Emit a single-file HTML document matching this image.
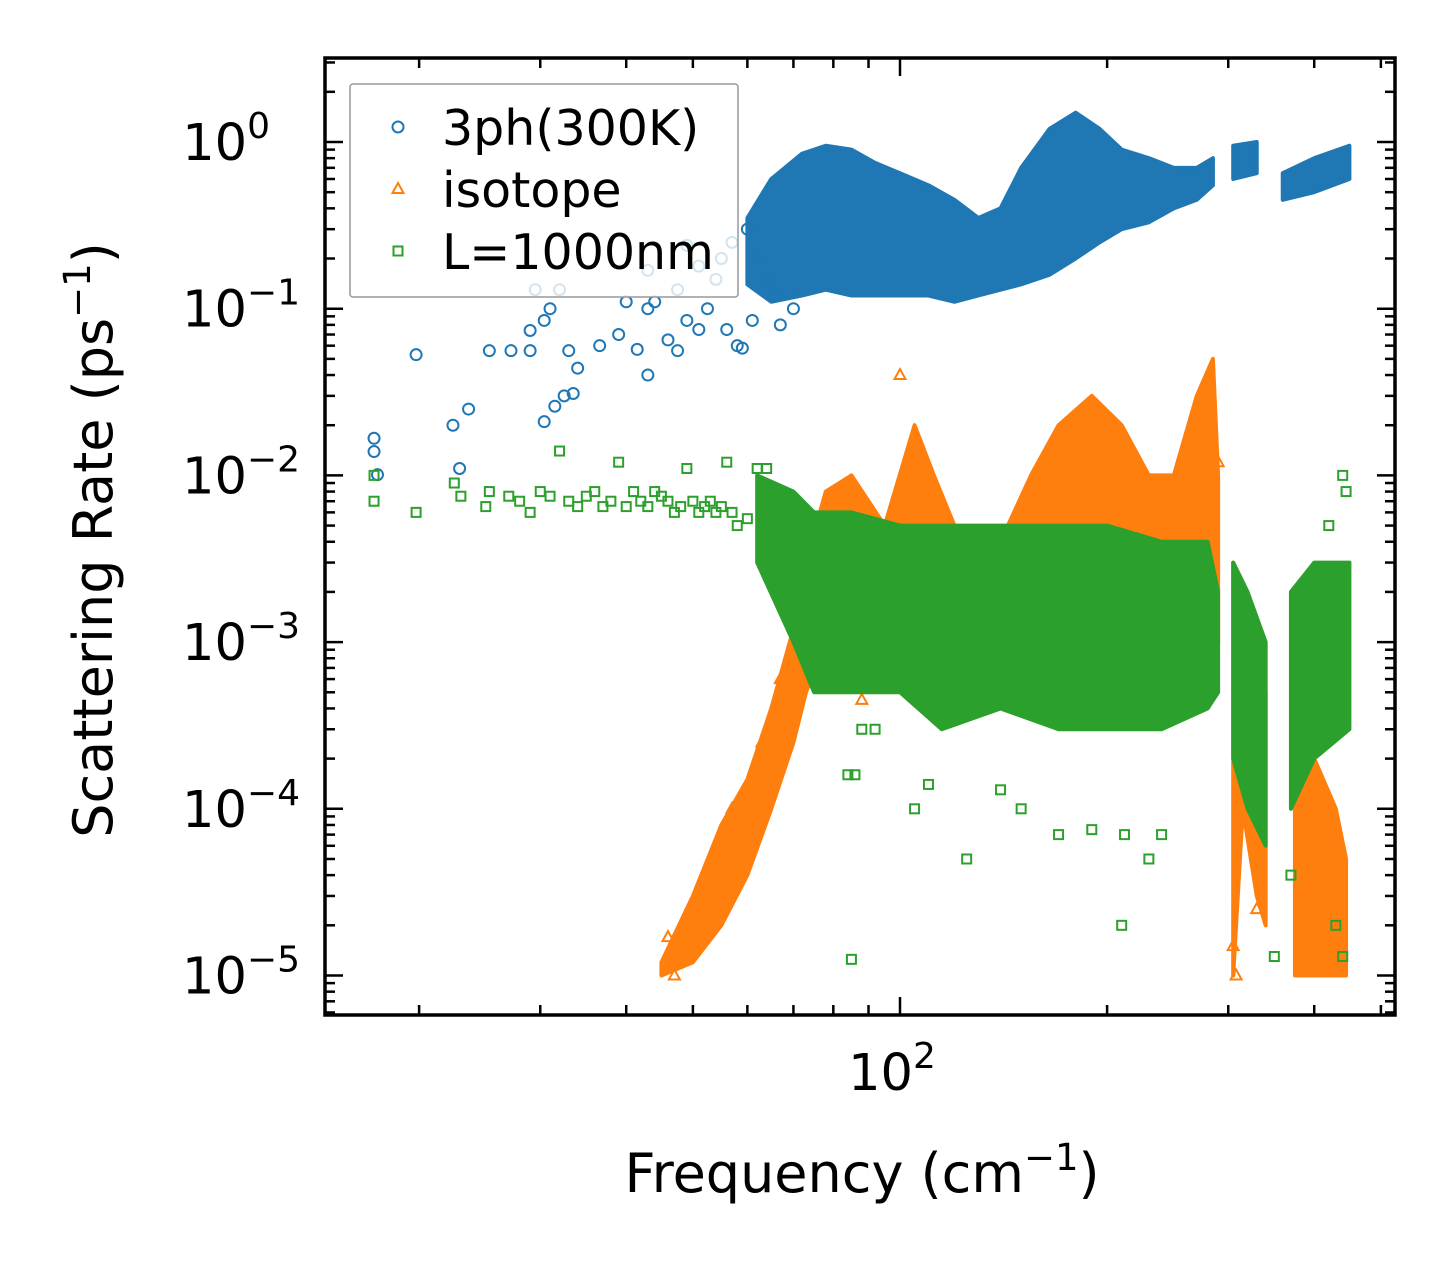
<!DOCTYPE html>
<html><head><meta charset="utf-8"><style>
body{margin:0;background:#fff}
svg text{font-family:"DejaVu Sans","Liberation Sans",sans-serif;fill:#000}
</style></head><body>
<svg id="chart" width="1455" height="1265" xmlns="http://www.w3.org/2000/svg">
<g id="marks"></g>
<g id="axes"></g>
</svg>
<script>
// ---- data ----
const xTicksMajor=[100];
const xTicksMinor=[20,30,40,50,60,70,80,90,200,300,400,500];
const yTickExps=[0,-1,-2,-3,-4,-5];
const blueBands=[
 [[60,0.14,0.35],[65,0.11,0.6],[72,0.12,0.85],[78,0.13,0.95],[85,0.12,0.9],[92,0.12,0.75],[100,0.12,0.65],[110,0.12,0.55],[120,0.11,0.45],[130,0.12,0.35],[140,0.13,0.4],[150,0.14,0.7],[165,0.16,1.2],[180,0.2,1.5],[195,0.25,1.2],[210,0.3,0.9],[230,0.33,0.8],[250,0.4,0.7],[270,0.45,0.7],[285,0.55,0.8]],
 [[305,0.6,0.95],[330,0.65,1.0]],
 [[360,0.45,0.65],[400,0.5,0.8],[450,0.6,0.95]]];
const bluePoints=[[17.2,0.0167],[17.2,0.0139],[17.4,0.0101],[19.8,0.053],[22.4,0.02],[22.9,0.011],[23.6,0.025],[25.3,0.056],[27.2,0.056],[29,0.056],[29,0.074],[30.4,0.085],[31,0.1],[29.5,0.13],[32,0.13],[30.4,0.021],[31.5,0.026],[32.5,0.03],[33.5,0.031],[34,0.044],[33,0.056],[36.6,0.06],[39,0.07],[40,0.11],[43,0.1],[43,0.04],[41.5,0.057],[44,0.11],[46,0.065],[47.5,0.056],[49,0.085],[51,0.075],[52.5,0.1],[54,0.15],[56,0.075],[58,0.06],[59,0.058],[61,0.085],[67,0.08],[47.5,0.13],[51,0.18],[49,0.24],[43,0.17],[55,0.2],[57,0.25],[60,0.3],[62,0.2],[64,0.15],[66,0.12],[70,0.1]];
const orangeBands=[
 [[45,1e-5,1.2e-5],[50,1.2e-5,3e-5],[55,2e-5,8e-5],[60,4e-5,1.5e-4],[65,1e-4,4e-4],[70,2.5e-4,1.2e-3],[73,5e-4,3e-3],[78,1e-3,8e-3],[85,1e-3,1e-2],[95,1e-3,5e-3],[105,1e-3,2e-2],[112,1e-3,1e-2],[120,1e-3,5e-3],[140,1e-3,4e-3],[155,1e-3,1e-2],[170,1e-3,2e-2],[190,1e-3,3e-2],[210,1e-3,2e-2],[230,1e-3,1e-2],[250,1e-3,1e-2],[270,1e-3,3e-2],[285,1e-3,5e-2],[290,1e-3,1e-2]],
 [[305,1e-5,3e-3],[315,1e-4,2e-3],[330,3e-5,1e-3],[340,2e-5,5e-4]],
 [[375,1e-5,3e-4],[400,1e-5,2e-4],[430,1e-5,1e-4],[445,1e-5,5e-5]]];
const orangePoints=[[100,0.04],[47,1e-5],[46,1.7e-5],[52,2e-5],[58,5e-5],[62,1e-4],[88,4.5e-4],[290,0.012],[305,1.5e-5],[308,1e-5],[330,2.5e-5],[48,1.5e-5],[53,4e-5],[57,1e-4],[63,2.5e-4],[67,6e-4]];
const greenBands=[
 [[62,3e-3,1e-2],[70,1e-3,8e-3],[75,5e-4,6e-3],[85,5e-4,6e-3],[100,5e-4,5e-3],[115,3e-4,5e-3],[140,4e-4,5e-3],[170,3e-4,5e-3],[200,3e-4,5e-3],[240,3e-4,4e-3],[280,4e-4,4e-3],[290,5e-4,2e-3]],
 [[305,2e-4,3e-3],[320,1e-4,2e-3],[340,6e-5,1e-3]],
 [[370,1e-4,2e-3],[400,2e-4,3e-3],[450,3e-4,3e-3]]];
const greenPoints=[[17.2,0.007],[17.2,0.01],[19.8,0.006],[22.5,0.009],[23,0.0075],[25,0.0065],[25.3,0.008],[27,0.0075],[28,0.007],[29,0.006],[30,0.008],[31,0.0075],[32,0.014],[33,0.007],[34,0.0065],[35,0.0075],[36,0.008],[37,0.0065],[38,0.007],[39,0.012],[40,0.0065],[41,0.008],[42,0.007],[43,0.0065],[44,0.008],[45,0.0075],[46,0.007],[47,0.006],[48,0.0065],[49,0.011],[50,0.007],[51,0.006],[52,0.0065],[53,0.007],[54,0.006],[55,0.0065],[56,0.012],[57,0.006],[58,0.005],[60,0.0055],[62,0.011],[64,0.011],[66,0.0045],[68,0.005],[85,1.25e-5],[84,1.6e-4],[86,1.6e-4],[88,3e-4],[92,3e-4],[105,1e-4],[110,1.4e-4],[125,5e-5],[140,1.3e-4],[150,1e-4],[170,7e-5],[190,7.5e-5],[210,2e-5],[212,7e-5],[230,5e-5],[240,7e-5],[350,1.3e-5],[440,1.3e-5],[430,2e-5],[370,4e-5],[440,0.01],[445,0.008],[420,0.005]];
// ---- scales ----
const X0=325,X1=1395,Y0=58,Y1=1015;
const xs=f=>900+688*Math.log10(f/100);
const ys=v=>142-166.7*Math.log10(v);
const NS='http://www.w3.org/2000/svg';
const marks=document.getElementById('marks'),axes=document.getElementById('axes');
function mk(tag,attrs,parent){const e=document.createElementNS(NS,tag);for(const k in attrs)e.setAttribute(k,attrs[k]);parent.appendChild(e);return e;}
const clip=mk('clipPath',{id:'pc'},marks);mk('rect',{x:X0,y:Y0,width:X1-X0,height:Y1-Y0},clip);
const plot=mk('g',{'clip-path':'url(#pc)'},marks);
function marker(kind,color,x,y,parent){
 let e;
 if(kind==='o'){e=mk('circle',{cx:x,cy:y,r:5.5,fill:'none',stroke:color,'stroke-width':2},parent);}
 else if(kind==='^'){e=mk('polygon',{points:`${x},${y-6} ${x-5.5},${y+4} ${x+5.5},${y+4}`,fill:'none',stroke:color,'stroke-width':2},parent);}
 else {e=mk('rect',{x:x-4.5,y:y-4.5,width:9,height:9,fill:'none',stroke:color,'stroke-width':2},parent);}
 return e;
}
function series(name,color,kind,bands,pts){
 const g=mk('g',{},plot);
 
 
 bands.forEach(b=>{
  const top=b.map(d=>xs(d[0])+','+ys(d[2]));
  const bot=b.slice().reverse().map(d=>xs(d[0])+','+ys(d[1]));
  const p=mk('polygon',{points:top.concat(bot).join(' '),fill:color,stroke:color,'stroke-width':4,'stroke-linejoin':'round'},g);
  
  
 });
 pts.forEach(d=>{
  const m=marker(kind,color,xs(d[0]),ys(d[1]),g);
  
  
 });
}
series('3ph','#1f77b4','o',blueBands,bluePoints);
series('isotope','#ff7f0e','^',orangeBands,orangePoints);
series('boundary','#2ca02c','s',greenBands,greenPoints);
// ---- axes ----
mk('rect',{x:X0,y:Y0,width:X1-X0,height:Y1-Y0,fill:'none',stroke:'#000','stroke-width':3.5},axes);
function tick(x1,y1,x2,y2){mk('line',{x1,y1,x2,y2,stroke:'#000','stroke-width':2.5},axes);}
xTicksMajor.forEach(f=>{const x=xs(f);tick(x,Y1,x,Y1-18);tick(x,Y0,x,Y0+18);
 const t=mk('text',{x:x-8,y:1090,'font-size':51,'text-anchor':'middle'},axes);t.innerHTML='10<tspan dy="-22" font-size="36">2</tspan>';
 });
xTicksMinor.forEach(f=>{const x=xs(f);tick(x,Y1,x,Y1-10);tick(x,Y0,x,Y0+10);});
yTickExps.forEach(e=>{const y=ys(Math.pow(10,e));tick(X0,y,X0+18,y);tick(X1,y,X1-18,y);
 const t=mk('text',{x:e===0?270:300,y:y+18,'font-size':51,'text-anchor':'end'},axes);
 t.innerHTML='10<tspan dy="-22" font-size="36">'+(e===0?'0':'−'+(-e))+'</tspan>';
 
 for(let k=2;k<=9;k++){const yy=ys(k*Math.pow(10,e));if(yy>Y0&&yy<Y1){tick(X0,yy,X0+10,yy);tick(X1,yy,X1-10,yy);}}
 if(e===-5){for(let k=6;k<=9;k++){const yy=ys(k*1e-6);if(yy<Y1){tick(X0,yy,X0+10,yy);tick(X1,yy,X1-10,yy);}}}
});
const xl=mk('text',{x:862,y:1192,'font-size':54,'text-anchor':'middle'},axes);
xl.innerHTML='Frequency (cm<tspan dy="-22" font-size="37">−1</tspan><tspan dy="22">)</tspan>';

const yl=mk('text',{x:0,y:0,'font-size':54,'text-anchor':'middle',transform:'translate(112,540) rotate(-90)'},axes);
yl.innerHTML='Scattering Rate (ps<tspan dy="-22" font-size="37">−1</tspan><tspan dy="22">)</tspan>';

// legend
const lg=mk('g',{},axes);

mk('rect',{x:350,y:84,width:388,height:213,rx:3,fill:'rgba(255,255,255,0.8)',stroke:'#999','stroke-width':1.5},lg);
const labels=['3ph(300K)','isotope','L=1000nm'],cols=['#1f77b4','#ff7f0e','#2ca02c'],kinds=['o','^','s'];
labels.forEach((l,i)=>{const y=127+i*62;
 const m=marker(kinds[i],cols[i],398,y,lg);
 const t=mk('text',{x:442,y:y+18,'font-size':49},lg);t.textContent=l;
 });
</script>
</body></html>
